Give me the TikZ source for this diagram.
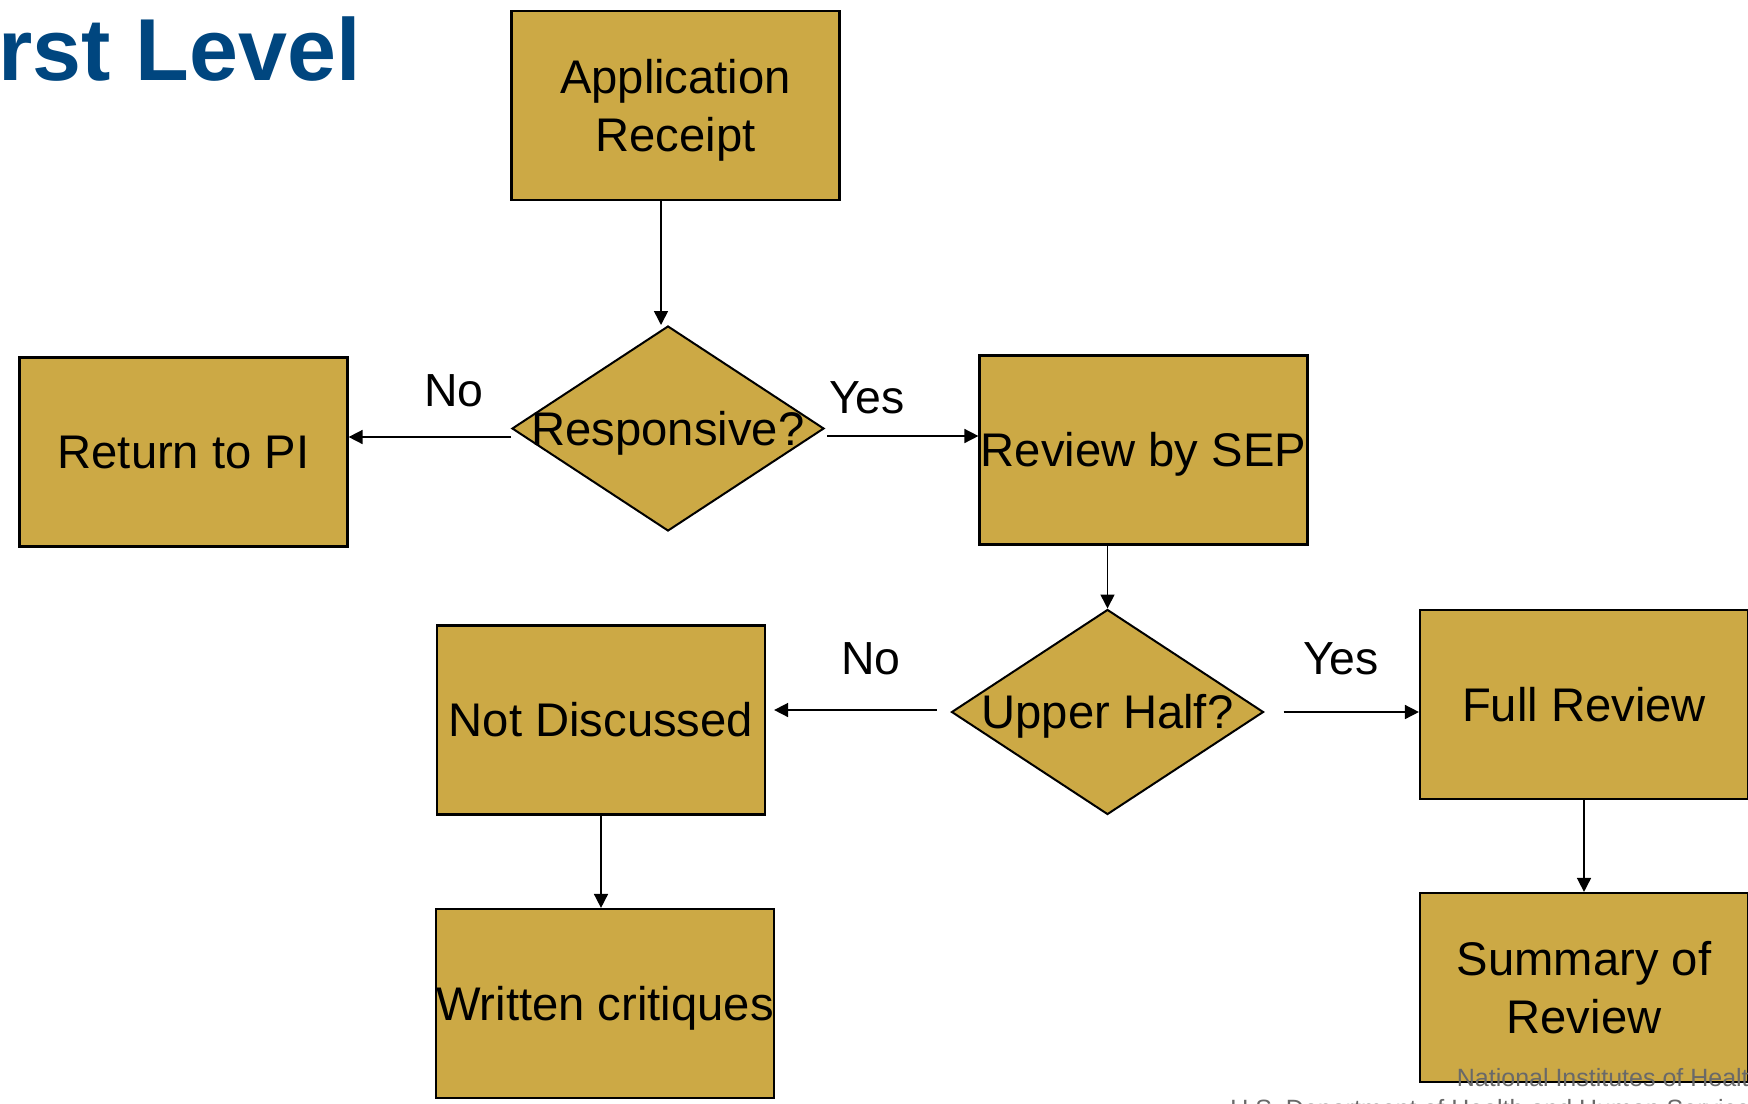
\documentclass[tikz,border=0pt]{standalone}
\usepackage{fontspec}
\setmainfont{Liberation Sans}
\usetikzlibrary{arrows.meta,shapes.geometric}
\definecolor{boxfill}{RGB}{204,169,69}
\definecolor{titleblue}{RGB}{0,70,127}
\definecolor{footgray}{RGB}{105,105,105}
\begin{document}
\begin{tikzpicture}[x=0.5pt,y=-0.5pt,
  box/.style={draw=black, line width=1.1pt, fill=boxfill, rectangle, inner sep=0pt,
     minimum width=164pt, minimum height=94.5pt, font=\fontsize{23.6}{29}\selectfont,
     text height=16.9pt, text depth=0pt, align=center},
  box2/.style={box, text height=45.9pt, text depth=0pt},
  dia/.style={draw=black, line width=1pt, fill=boxfill, diamond, inner sep=0pt,
     minimum width=156pt, minimum height=102.5pt},
  dtxt/.style={inner sep=0pt, font=\fontsize{23.6}{29}\selectfont, text height=16.9pt, text depth=0pt},
  lbl/.style={inner sep=0pt, font=\fontsize{23.2}{28}\selectfont, anchor=base},
  arr/.style={line width=0.8pt, -{Triangle[length=7pt,width=7pt]}},
  foot/.style={inner sep=0pt, anchor=base east, text=footgray, font=\fontsize{12.5}{15}\selectfont}
]
\useasboundingbox (0,0) rectangle (1748,1103);
\clip (0,0) rectangle (1748,1103);
\fill[white] (0,0) rectangle (1748,1103);

\node[inner sep=0pt, anchor=base east, text=titleblue, font=\fontsize{44}{50}\selectfont\bfseries] (title) at (361,80) {First Level};

\node[box2] (app) at (675.5,105.5) {Application\\Receipt};
\node[box] (ret) at (183.5,452) {Return to PI};
\node[dia] (resp) at (668,428.5) {};
\node[dtxt] (resptxt) at (resp.center) {Responsive?};
\node[box] (sep) at (1143.5,450) {Review by SEP};
\node[dia] (upper) at (1107.5,712) {};
\node[dtxt] (uppertxt) at (upper.center) {Upper Half?};
\node[box] (notd) at (601,720) {Not Discussed};
\node[box, minimum width=168pt] (wc) at (605,1003.5) {Written critiques};
\node[box] (full) at (1584,704.5) {Full Review};
\node[box2] (summ) at (1584,987.5) {Summary of\\Review};

\node[lbl] (no1) at (454,406) {No};
\node[lbl] (yes1) at (867,413) {Yes};
\node[lbl] (no2) at (871,674) {No};
\node[lbl] (yes2) at (1341,674) {Yes};

\draw[arr] ([xshift=-7.25pt]app.south) -- ([xshift=-3.5pt]resp.north);
\coordinate (rl) at ([yshift=-4.25pt]resp.west);
\draw[arr] (rl) -- (ret.east |- rl);
\coordinate (rr) at ([xshift=1pt,yshift=-3.75pt]resp.east);
\draw[arr] (rr) -- (sep.west |- rr);
\draw[arr] (upper.north |- sep.south) -- (upper.north);
\coordinate (ul) at ([xshift=-7pt,yshift=1pt]upper.west);
\coordinate (ndr) at ([xshift=4pt]notd.east);
\draw[arr] (ul) -- (ndr |- ul);
\coordinate (ur) at ([xshift=9.5pt]upper.east);
\draw[arr] (ur) -- (full.west |- ur);
\draw[arr] (full.south) -- (summ.north);
\draw[arr] (notd.south) -- (notd.south |- wc.north);

\node[foot] (foot1) at (1763,1086) {National Institutes of Health};
\node[foot] (foot2) at (1763,1117) {U.S. Department of Health and Human Services};
\end{tikzpicture}
\end{document}
